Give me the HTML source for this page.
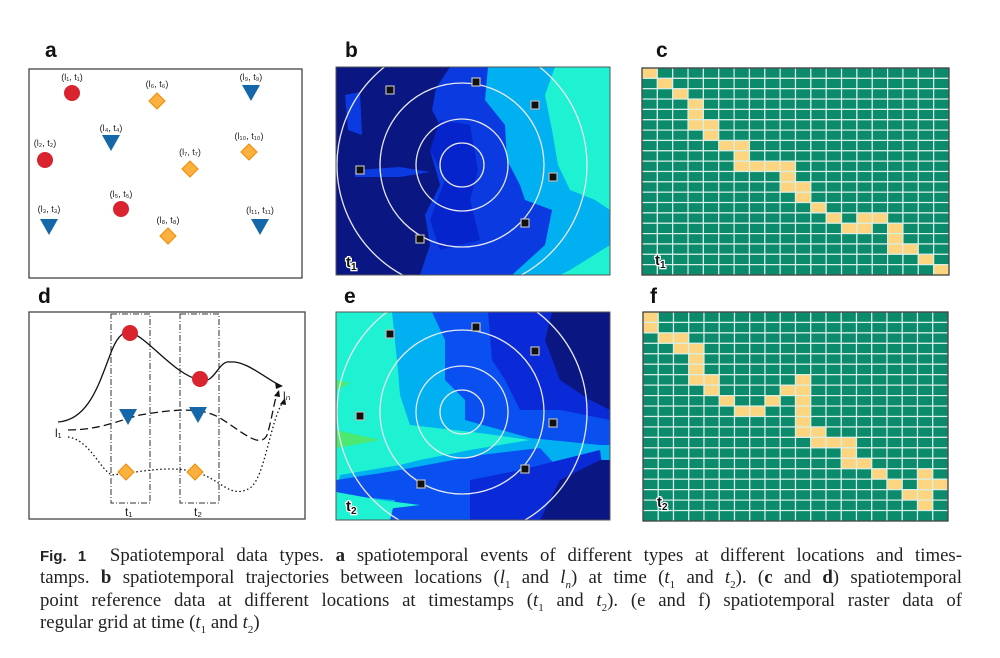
<!DOCTYPE html>
<html><head><meta charset="utf-8"><style>
html,body{margin:0;padding:0;background:#fff;width:1000px;height:658px;overflow:hidden}
.cap{position:absolute;left:40px;width:922px;font-family:"Liberation Serif",serif;font-size:18.8px;color:#222;text-align:justify;text-align-last:justify;line-height:20px;white-space:nowrap}
.cap.last{text-align-last:left}
.cap b.f{font-family:"Liberation Sans",sans-serif;font-size:15px}
.cap sub{font-size:11px}
</style></head><body>
<svg width="1000" height="540" style="position:absolute;left:0;top:0" font-family="Liberation Sans, sans-serif">
<defs>
<clipPath id="cb"><rect x="336" y="67" width="274" height="208"/></clipPath>
<clipPath id="ce"><rect x="336" y="312" width="274" height="208"/></clipPath>
</defs>
<g font-weight="bold" font-size="21" fill="#111">
<text x="45" y="57">a</text><text x="345" y="57">b</text><text x="656" y="57">c</text>
<text x="38" y="303">d</text><text x="344" y="303">e</text><text x="650" y="303">f</text>
</g>
<rect x="29" y="69" width="273" height="209" fill="#fff" stroke="#444" stroke-width="1.3"/>
<g font-size="9" fill="#222" text-anchor="middle">
<text x="72" y="80">(l₁, t₁)</text><text x="157" y="87">(l₆, t₆)</text><text x="251" y="80">(l₉, t₉)</text>
<text x="111" y="131">(l₄, t₄)</text><text x="45" y="146">(l₂, t₂)</text><text x="190" y="155">(l₇, t₇)</text>
<text x="249" y="139">(l₁₀, t₁₀)</text><text x="49" y="212">(l₃, t₃)</text><text x="121" y="197">(l₅, t₅)</text>
<text x="168" y="223">(l₈, t₈)</text><text x="260" y="213">(l₁₁, t₁₁)</text>
</g>
<g fill="#d9232f"><circle cx="72" cy="93" r="8"/><circle cx="45" cy="160" r="8"/><circle cx="121" cy="209" r="8"/></g>
<g fill="#fbb040" stroke="#f08a00" stroke-width="1">
<path d="M157 93 l8 8 -8 8 -8 -8z"/><path d="M190 161 l8 8 -8 8 -8 -8z"/><path d="M249 144 l8 8 -8 8 -8 -8z"/><path d="M168 228 l8 8 -8 8 -8 -8z"/>
</g>
<g fill="#1467a8">
<path d="M242 85 h18 l-9 16z"/><path d="M102 135 h18 l-9 16z"/><path d="M40 219 h18 l-9 16z"/><path d="M251 219 h18 l-9 16z"/>
</g>
<rect x="29" y="312" width="276" height="207" fill="#fff" stroke="#444" stroke-width="1.3"/>
<g fill="none" stroke="#333" stroke-width="1" stroke-dasharray="6 2 1 2">
<rect x="111" y="314" width="39" height="189"/><rect x="180" y="314" width="39" height="189"/>
</g>
<g font-size="12" fill="#222"><text x="125" y="516">t₁</text><text x="194" y="516">t₂</text><text x="55" y="437">l₁</text><text x="283" y="400">lₙ</text></g>
<path d="M58 422 C90 420 100 380 112 350 C118 335 125 330 132 333 C150 340 175 375 200 380 C215 385 218 360 230 362 C245 360 265 378 281 386" fill="none" stroke="#111" stroke-width="1.3"/>
<path d="M68 430 C100 430 120 420 140 415 C170 410 200 406 220 418 C240 430 260 450 267 435 C272 420 274 400 278 392" fill="none" stroke="#111" stroke-width="1.3" stroke-dasharray="8 4"/>
<path d="M68 437 C90 440 100 470 112 475 C140 472 170 465 195 472 C220 478 230 500 250 488 C265 478 270 420 284 400" fill="none" stroke="#111" stroke-width="1.3" stroke-dasharray="1.5 2.5"/>
<path d="M283 386 l-8 -4 1 7z M279 390 l-5 6 6 1z M285 398 l-5 6 6 1z" fill="#111"/>
<g fill="#d9232f"><circle cx="130" cy="333" r="8"/><circle cx="200" cy="379" r="8"/></g>
<g fill="#1467a8"><path d="M119 409 h18 l-9 16z"/><path d="M189 407 h18 l-9 16z"/></g>
<g fill="#fbb040" stroke="#f08a00"><path d="M126 464 l8 8 -8 8 -8 -8z"/><path d="M195 464 l8 8 -8 8 -8 -8z"/></g>
<g clip-path="url(#cb)">
<rect x="336" y="67" width="274" height="208" fill="#0a1682"/>
<path d="M450 67 L436 88 L432 110 L445 135 L430 150 L440 185 L425 215 L430 245 L420 275 L610 275 L610 67Z" fill="#0a3ae0"/>
<path d="M440 120 L470 125 L478 170 L470 200 L480 240 L440 250 L430 220 L445 180 L430 150Z" fill="#0624cc"/>
<path d="M488 67 L485 100 L505 125 L507 160 L520 185 L525 200 L552 210 L545 245 L512 275 L610 275 L610 67Z" fill="#00b0f0"/>
<path d="M555 67 L545 95 L552 130 L558 165 L570 190 L595 200 L610 210 L610 67Z" fill="#1ef2d2"/>
<path d="M570 270 L610 245 L610 275 L560 275Z" fill="#1ef2d2"/>
<path d="M345 95 L360 92 L362 135 L348 130Z M355 170 L400 167 L430 172 L400 177 L355 177Z" fill="#0a3ae0"/>
</g>
<g clip-path="url(#cb)" fill="none" stroke="#e8e8f0" stroke-width="1.3">
<circle cx="462" cy="165" r="22"/><circle cx="462" cy="165" r="46"/><circle cx="462" cy="165" r="82"/><circle cx="462" cy="165" r="125"/>
</g>
<rect x="336" y="67" width="274" height="208" fill="none" stroke="#555"/>
<g fill="#111" stroke="#bbb" stroke-width="1.2">
<rect x="386" y="86" width="8" height="8"/><rect x="472" y="78" width="8" height="8"/><rect x="531" y="101" width="8" height="8"/><rect x="356" y="166" width="8" height="8"/><rect x="549" y="173" width="8" height="8"/><rect x="521" y="219" width="8" height="8"/><rect x="416" y="235" width="8" height="8"/>
</g>
<g clip-path="url(#ce)">
<rect x="336" y="312" width="274" height="208" fill="#1ef2d2"/>
<path d="M392 312 L398 370 L400 395 L410 425 L480 433 L530 440 L470 450 L420 460 L400 465 L340 475 L336 495 L420 505 L430 520 L610 520 L610 312Z" fill="#00b0f0"/>
<path d="M432 312 L445 340 L445 380 L465 400 L465 420 L530 438 L600 445 L610 445 L610 312Z" fill="#0a50f0"/>
<path d="M336 480 L400 470 L480 455 L540 448 L560 470 L540 520 L390 520 L395 500 L336 495Z" fill="#0a50f0"/>
<path d="M488 312 L492 360 L505 380 L520 410 L560 410 L610 420 L610 312Z M470 480 L520 470 L560 460 L600 450 L610 520 L470 520Z" fill="#0a2ad8"/>
<path d="M552 312 L545 340 L560 380 L590 400 L610 410 L610 312Z M560 480 L600 460 L610 460 L610 520 L540 520Z" fill="#0a1682"/>
<path d="M336 380 L350 383 L336 390Z M336 430 L380 440 L336 448Z" fill="#4de870"/>
<path d="M336 492 L380 500 L420 505 L336 515Z" fill="#1ef2d2"/>
</g>
<g clip-path="url(#ce)" fill="none" stroke="#e8e8f0" stroke-width="1.3">
<circle cx="462" cy="412" r="22"/><circle cx="462" cy="412" r="46"/><circle cx="462" cy="412" r="82"/><circle cx="462" cy="412" r="125"/>
</g>
<rect x="336" y="312" width="274" height="208" fill="none" stroke="#555"/>
<g fill="#111" stroke="#bbb" stroke-width="1.2">
<rect x="386" y="330" width="8" height="8"/><rect x="472" y="323" width="8" height="8"/><rect x="531" y="347" width="8" height="8"/><rect x="356" y="412" width="8" height="8"/><rect x="549" y="419" width="8" height="8"/><rect x="521" y="465" width="8" height="8"/><rect x="417" y="480" width="8" height="8"/>
</g>
<g id="gc"></g><g id="gf"></g>
<g font-size="15" fill="#111" stroke="#fff" stroke-width="2.5" paint-order="stroke" font-weight="bold">
<text x="346" y="267">t<tspan font-size="10" dy="3">1</tspan></text>
<text x="346" y="511">t<tspan font-size="10" dy="3">2</tspan></text>
<text x="655" y="265">t<tspan font-size="10" dy="3">1</tspan></text>
<text x="657" y="507">t<tspan font-size="10" dy="3">2</tspan></text>
</g>
</svg>
<div class="cap" style="top:546px"><b class="f">Fig. 1</b>&nbsp; Spatiotemporal data types. <b>a</b> spatiotemporal events of different types at different locations and times-</div>
<div class="cap" style="top:568px">tamps. <b>b</b> spatiotemporal trajectories between locations (<i>l</i><sub>1</sub> and <i>l<sub>n</sub></i>) at time (<i>t</i><sub>1</sub> and <i>t</i><sub>2</sub>). (<b>c</b> and <b>d</b>) spatiotemporal</div>
<div class="cap" style="top:591px">point reference data at different locations at timestamps (<i>t</i><sub>1</sub> and <i>t</i><sub>2</sub>). (e and f) spatiotemporal raster data of</div>
<div class="cap last" style="top:613px">regular grid at time (<i>t</i><sub>1</sub> and <i>t</i><sub>2</sub>)</div>
<script>
(function(){
function grid(id,x0,y0,w,h,cells){
 var g=document.getElementById(id),cw=w/20,ch=h/20,s="";
 var set={};cells.forEach(function(r,i){r.forEach(function(c){set[i+","+c]=1;});});
 for(var r=0;r<20;r++)for(var c=0;c<20;c++){
  s+='<rect x="'+(x0+c*cw)+'" y="'+(y0+r*ch)+'" width="'+cw+'" height="'+ch+'" fill="'+(set[r+","+c]?"#fdd581":"#0b8a6c")+'" stroke="#d8efe6" stroke-width="1.2"/>';
 }
 s+='<rect x="'+x0+'" y="'+y0+'" width="'+w+'" height="'+h+'" fill="none" stroke="#333" stroke-width="1.2"/>';
 g.innerHTML=s;
}
grid("gc",642,68,307,207,[[0],[1],[2],[3],[3],[3,4],[4],[5,6],[6],[6,7,8,9],[9],[9,10],[10],[11],[12,14,15],[13,14,16],[16],[16,17],[18],[19]]);
grid("gf",643,312,305,209,[[0],[0],[1,2],[2,3],[3],[3],[3,4,10],[4,9,10],[5,8,10],[6,7,10],[10],[10,11],[11,12,13],[13],[13,14],[15,18],[16,18,19],[17,18],[18],[]]);
})();
</script>
</body></html>
